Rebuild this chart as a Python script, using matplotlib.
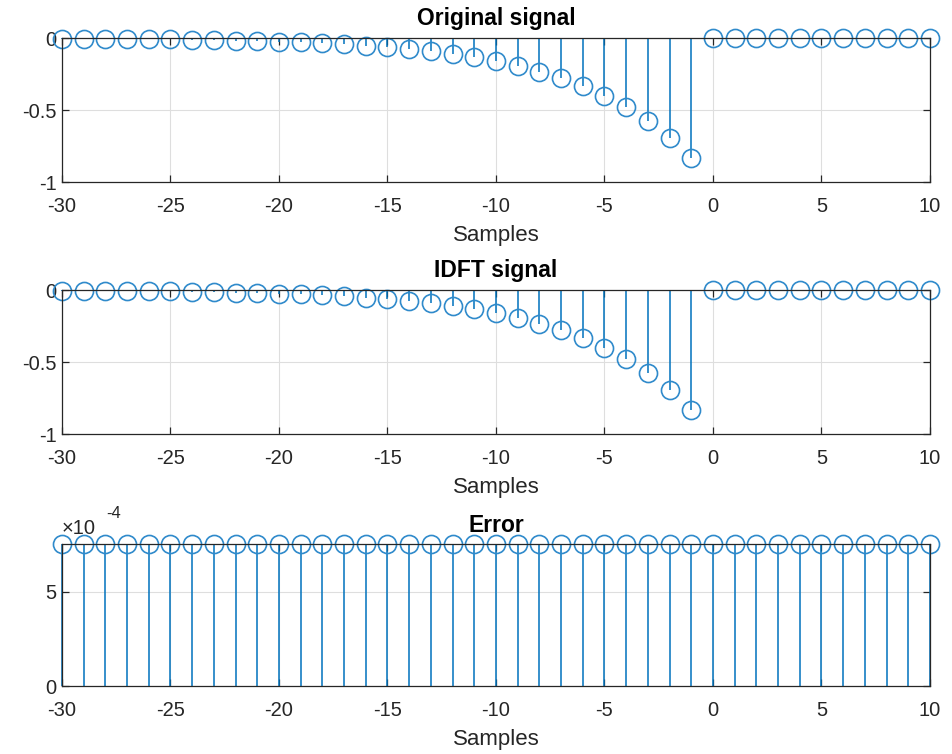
import matplotlib
matplotlib.use("Agg")
import matplotlib.pyplot as plt

plt.rcParams['font.family'] = ['Liberation Sans', 'DejaVu Sans']
plt.rcParams['axes.unicode_minus'] = False

samples = list(range(-30, 11))
original = [-0.004, -0.005, -0.006, -0.007, -0.009, -0.010, -0.013, -0.015, -0.018, -0.022,
            -0.026, -0.031, -0.038, -0.045, -0.054, -0.065, -0.078, -0.093, -0.112, -0.135,
            -0.162, -0.194, -0.233, -0.279, -0.335, -0.402, -0.482, -0.579, -0.694, -0.833,
            0, 0, 0, 0, 0, 0, 0, 0, 0, 0, 0]
idft = [-0.004, -0.005, -0.006, -0.007, -0.009, -0.010, -0.013, -0.015, -0.018, -0.022,
        -0.026, -0.031, -0.038, -0.045, -0.054, -0.065, -0.078, -0.093, -0.112, -0.135,
        -0.162, -0.194, -0.233, -0.279, -0.335, -0.402, -0.482, -0.579, -0.694, -0.833,
        0, 0, 0, 0, 0, 0, 0, 0, 0, 0, 0]
error = [7.55e-4, 7.55e-4, 7.55e-4, 7.55e-4, 7.55e-4, 7.55e-4, 7.55e-4, 7.55e-4, 7.55e-4, 7.55e-4,
         7.55e-4, 7.55e-4, 7.55e-4, 7.55e-4, 7.55e-4, 7.55e-4, 7.55e-4, 7.55e-4, 7.55e-4, 7.55e-4,
         7.55e-4, 7.55e-4, 7.55e-4, 7.55e-4, 7.55e-4, 7.55e-4, 7.55e-4, 7.55e-4, 7.55e-4, 7.55e-4,
         7.55e-4, 7.55e-4, 7.55e-4, 7.55e-4, 7.55e-4, 7.55e-4, 7.55e-4, 7.55e-4, 7.55e-4, 7.55e-4,
         7.55e-4]
titles = ["Original signal", "IDFT signal", "Error"]
xticks = [-30, -25, -20, -15, -10, -5, 0, 5, 10]

BLUE = '#0072BD'
MBLUE = '#2f8acb'
GRAY = '#262626'

W, H = 953, 754
fig = plt.figure(figsize=(W / 100, H / 100), dpi=100)

boxes = [(38, 182), (290, 434), (544, 686)]
left, right = 62, 930
series = [original, idft, error]

for i, (top, bot) in enumerate(boxes):
    ax = fig.add_axes([left / W, 1 - bot / H, (right - left) / W, (bot - top) / H])
    y = series[i]
    ml, sl, bl = ax.stem(samples, y, basefmt=' ')
    plt.setp(sl, color=BLUE, linewidth=1.1, clip_on=False)
    plt.setp(ml, color=MBLUE, marker='o', markersize=13, markerfacecolor='none',
             markeredgewidth=1.2, clip_on=False)
    ax.set_xlim(-30, 10)
    ax.set_xticks(xticks)
    if i < 2:
        ax.set_ylim(-1, 0)
        ax.set_yticks([-1, -0.5, 0])
        ax.set_yticklabels(['-1', '-0.5', '0'])
    else:
        ax.set_ylim(0, max(error))
        ax.set_yticks([0, 5e-4])
        ax.set_yticklabels(['0', '5'])
        ax.text(0.0, 1.04, '\u00d710', transform=ax.transAxes, ha='left', va='bottom',
                fontsize=14.5, color=GRAY)
        ax.text(0.051, 1.16, '-4', transform=ax.transAxes, ha='left', va='bottom',
                fontsize=12, color=GRAY)
    ax.grid(True, color='#dedede', linewidth=0.8)
    ax.set_axisbelow(True)
    for s in ax.spines.values():
        s.set_color(GRAY)
        s.set_linewidth(0.9)
    ax.tick_params(direction='in', length=5, width=0.9, colors=GRAY, labelsize=14.5,
                   top=True, right=True)
    ax.tick_params(axis='x', pad=11)
    ax.tick_params(axis='y', pad=4)
    ax.set_title(titles[i], fontsize=16.5, fontweight='bold', color='black', pad=9)
    ax.set_xlabel('Samples', fontsize=16, color=GRAY, labelpad=6)

fig.savefig('out.png', dpi=100)
